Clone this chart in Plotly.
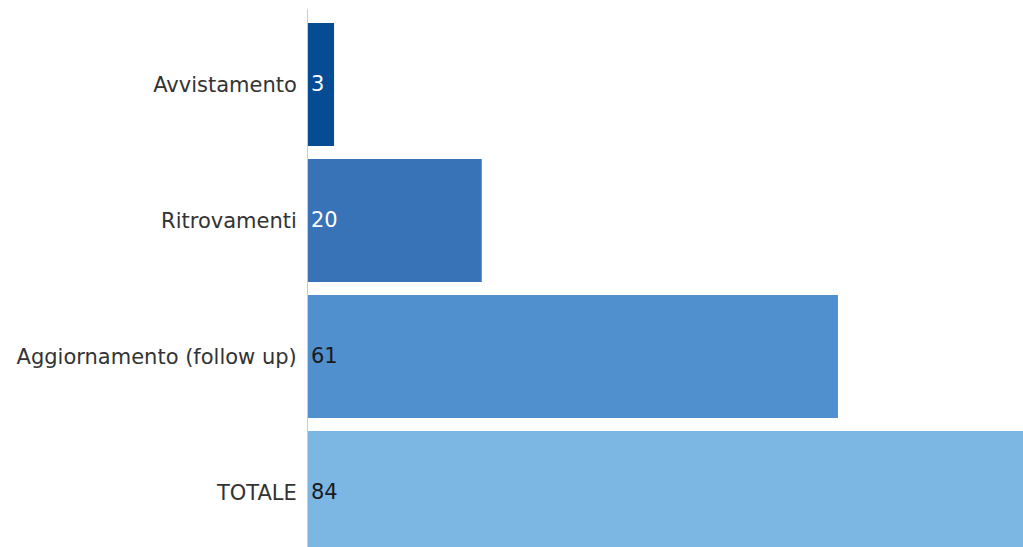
import plotly.graph_objects as go

categories = ["Avvistamento", "Ritrovamenti", "Aggiornamento (follow up)", "TOTALE"]
values = [3, 20, 61, 84]
bar_colors = ["#054c94", "#3872b7", "#5190cf", "#7cb7e3"]
text_colors = ["#ffffff", "#ffffff", "#1a1a1a", "#1a1a1a"]

FONT = "DejaVu Sans"

fig = go.Figure(go.Bar(
    y=categories, x=values, orientation="h",
    marker=dict(color=bar_colors, line=dict(width=0)),
    width=0.904,
    text=[str(v) for v in values],
    textposition="inside", insidetextanchor="start",
    textfont=dict(color=text_colors, size=21, family=FONT),
    cliponaxis=True,
    hoverinfo="skip",
))

fig.update_layout(
    width=1023, height=547,
    margin=dict(l=308, r=0, t=9, b=0, pad=0),
    plot_bgcolor="white", paper_bgcolor="white",
    showlegend=False,
    font=dict(family=FONT, size=21, color="#333333"),
    uniformtext=dict(mode=False),
)
fig.update_xaxes(range=[0, 82.3], showgrid=False, zeroline=False, showticklabels=False, showline=False)
fig.update_yaxes(categoryorder="array", categoryarray=categories,
                 range=[3.401, -0.555], showgrid=False, zeroline=False,
                 showline=True, linecolor="#cccccc", linewidth=1,
                 ticks="", ticklabelstandoff=6)

fig.write_html("out.html")
